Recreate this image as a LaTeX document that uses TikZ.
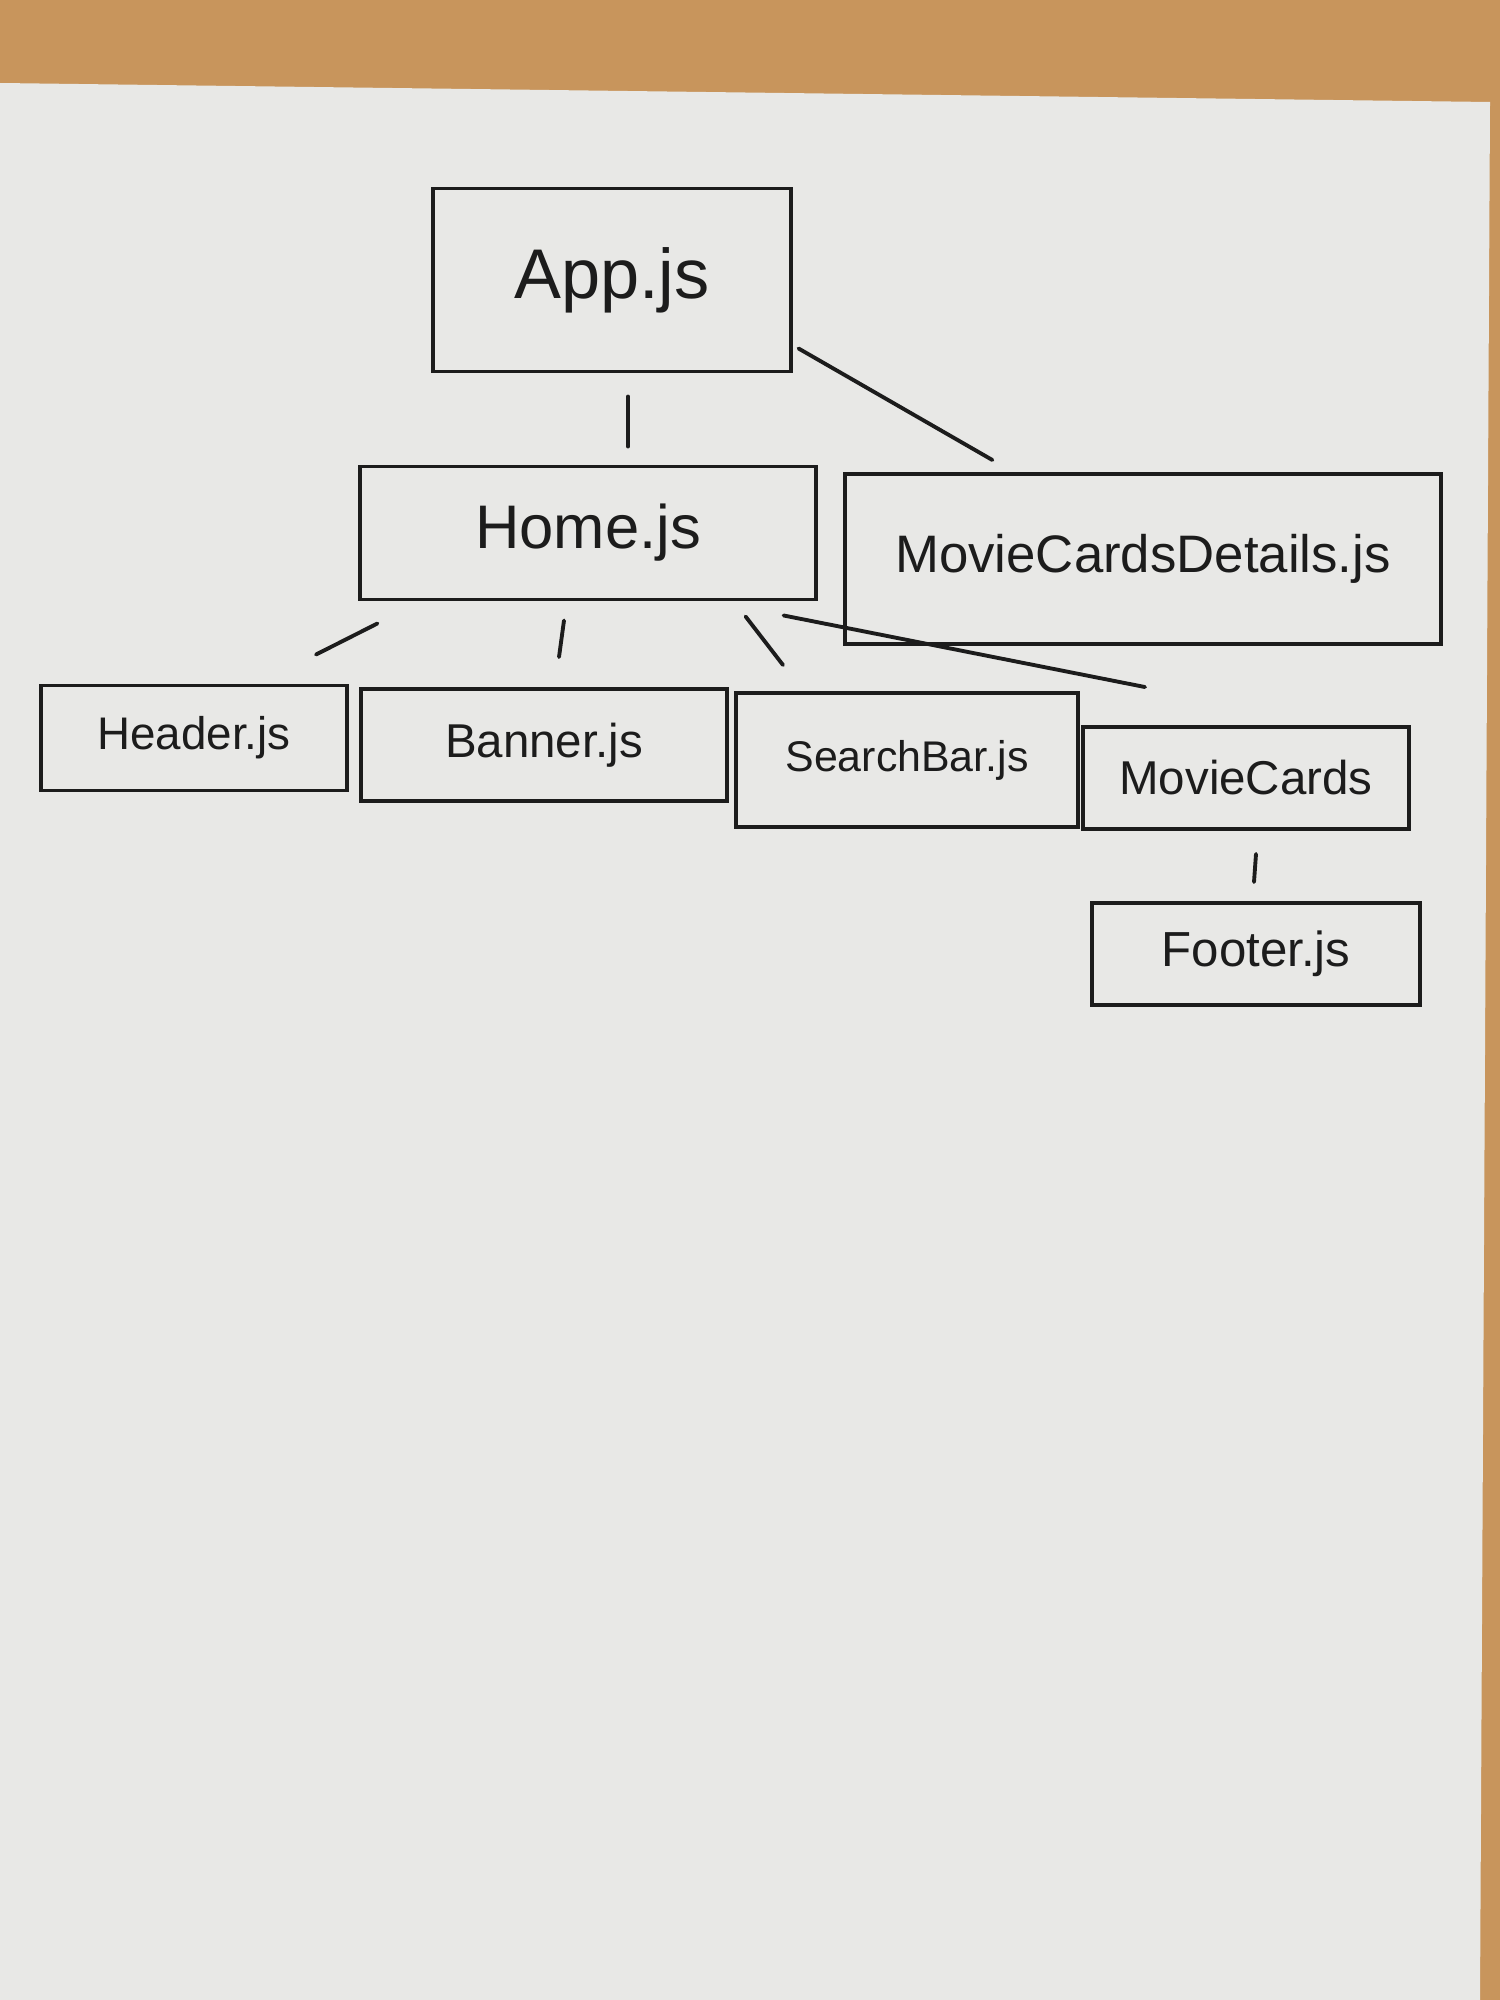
\documentclass[tikz,border=0pt]{standalone}
\usepackage{fontspec}
\setmainfont{Liberation Sans}
\usetikzlibrary{calc}
\definecolor{paper}{HTML}{E8E8E6}
\definecolor{wood}{HTML}{C8955C}
\definecolor{ink}{HTML}{1C1C1C}
\begin{document}
\begin{tikzpicture}[x=0.01cm,y=-0.01cm,
  box/.style={draw=ink, line width=1.1pt, inner sep=0pt, text=ink},
  link/.style={draw=ink, line width=1.1pt, line cap=round}]
\useasboundingbox (0,0) rectangle (1500,2000);
\fill[wood] (0,0) rectangle (1500,2000);
\fill[paper] (0,83) -- (1490,102) -- (1480,2000) -- (0,2000) -- cycle;

\node[box, minimum width=3.57cm, minimum height=1.83cm, font=\fontsize{20}{24}\selectfont] (app) at (612,280) {App.js};
\node[box, minimum width=4.55cm, minimum height=1.33cm, font=\fontsize{17.5}{21}\selectfont] (home) at (588,533) {Home.js};
\node[box, minimum width=5.95cm, minimum height=1.70cm, font=\fontsize{15}{18}\selectfont] (mcd) at (1143,559) {MovieCardsDetails.js};
\node[box, minimum width=3.05cm, minimum height=1.05cm, font=\fontsize{13}{16}\selectfont] (header) at (194,738) {Header.js};
\node[box, minimum width=3.66cm, minimum height=1.12cm, font=\fontsize{13.5}{16}\selectfont] (banner) at (544,745) {Banner.js};
\node[box, minimum width=3.41cm, minimum height=1.34cm, font=\fontsize{12.2}{15}\selectfont] (search) at (907,760) {SearchBar.js};
\node[box, minimum width=3.25cm, minimum height=1.02cm, font=\fontsize{13.5}{16}\selectfont] (cards) at (1246,778) {MovieCards};
\node[box, minimum width=3.27cm, minimum height=1.02cm, font=\fontsize{14}{17}\selectfont] (footer) at (1256,954) {Footer.js};

\draw[link] ($(app.south)+(16,23)$) -- ($(home.north)+(40,-18)$);
\draw[link] ($(app.south east)+(6,-25)$) -- ($(mcd.north west)+(149,-12)$);
\draw[link] ($(home.south west)+(19,22)$) -- ($(header.north)+(122,-29)$);
\draw[link] ($(home.south)+(-24,19)$) -- ($(banner.north)+(15,-30)$);
\draw[link] ($(home.south east)+(-72,15)$) -- ($(search.north)+(-124,-26)$);
\draw[link] ($(home.south east)+(-34,14)$) -- ($(cards.north)+(-101,-38)$);
\draw[link] ($(cards.south)+(10,23)$) -- ($(footer.north)+(-2,-19)$);
\end{tikzpicture}
\end{document}
